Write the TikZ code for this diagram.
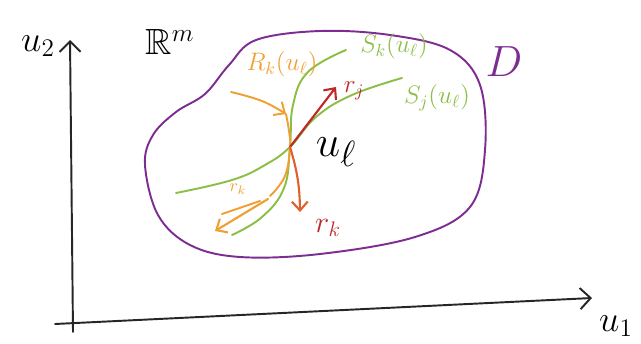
\documentclass[tikz,border=0pt]{standalone}
\usepackage{amsmath, amssymb, amsfonts}
\usepackage{xcolor}
\usepackage{tikz}
\usetikzlibrary{arrows.meta,positioning,calc}

\definecolor{blobpurple}{RGB}{125,45,145}
\definecolor{curvegreen}{RGB}{140,190,70}
\definecolor{curveorange}{RGB}{240,160,50}
\definecolor{vecred}{RGB}{190,40,40}
\definecolor{vecorange}{RGB}{225,95,45}

\begin{document}
\begin{tikzpicture}[
    x=0.02cm, y=-0.02cm,
    line cap=round, line join=round,
    axis/.style={draw=black!85, line width=1.1pt, -{Straight Barb[length=6pt,width=12pt]}},
    region/.style={draw=blobpurple, line width=1.1pt},
    wave/.style={draw=curvegreen, line width=1.1pt},
    rare/.style={draw=curveorange, line width=1.1pt},
    eigvec/.style={line width=1.2pt, -{Straight Barb[length=5pt,width=9pt]}},
    every node/.style={font=\Large}
]
\useasboundingbox (0,0) rectangle (641,344);

\coordinate (o) at (72,322);
\coordinate (ybot) at (73,332);
\coordinate (ytop) at (70,40);
\coordinate (xstart) at (55,324);
\coordinate (xend) at (592,298);
\coordinate (ul) at (290,147);
\coordinate (rjend) at (336,87);
\coordinate (rkend) at (300,212);

\draw[axis] (ybot) -- (ytop);
\draw[axis] (xstart) -- (xend);
\node[font=\huge] (ulabel2) at (38,46) {$u_2$};
\node[font=\huge] (ulabel1) at (616,326) {$u_1$};
\node[font=\huge] (space) at (170,42) {$\mathbb{R}^m$};

\draw[region] plot[smooth cycle, tension=0.6] coordinates {
    (145,165) (153,135) (176,112) (205,94) (229,65) (256,40)
    (320,31) (390,35) (450,50) (480,85) (485,150) (470,207) (415,237)
    (320,254) (240,257) (190,245) (158,215)};
\node[text=blobpurple, font=\Huge] (dlabel) at (504,62) {$D$};

\draw[wave] plot[smooth, tension=0.7] coordinates {
    (232,235) (262,217) (284,188) (ul) (293,105) (308,72) (346,50)};
\draw[wave] plot[smooth, tension=0.7] coordinates {
    (176,193) (232,180) (265,165) (ul) (316,117) (352,95) (402,78)};
\node[text=curvegreen] (sklabel) at (394,46) {$S_k(u_\ell)$};
\node[text=curvegreen] (sjlabel) at (437,98) {$S_j(u_\ell)$};

\draw[rare, -{Straight Barb[length=5pt,width=9pt]}] plot[smooth, tension=0.7] coordinates {
    (231,92) (262,101) (286,114)};
\draw[rare] plot[smooth, tension=0.7] coordinates {
    (286,114) (289,131) (ul) (285,176) (270,196)};
\draw[rare, eigvec] (268,199) -- (215,231);
\draw[rare] (222,214) -- (260,201);
\node[text=curveorange] (rklabel) at (282,64) {$R_k(u_\ell)$};
\node[text=curveorange, font=\normalsize] (rksmall) at (238,189) {$r_k$};

\draw[eigvec, vecred] (ul) -- (rjend);
\draw[eigvec, vecorange] (ul) to[bend left=8] (rkend);
\node[text=vecred, right=1pt of rjend, yshift=-2pt] (rjlabel) {$r_j$};
\node[text=vecred, font=\LARGE] (rklabel2) at (328,228) {$r_k$};

\node[font=\Huge] (ullabel) at (336,152) {$u_\ell$};
\end{tikzpicture}
\end{document}
